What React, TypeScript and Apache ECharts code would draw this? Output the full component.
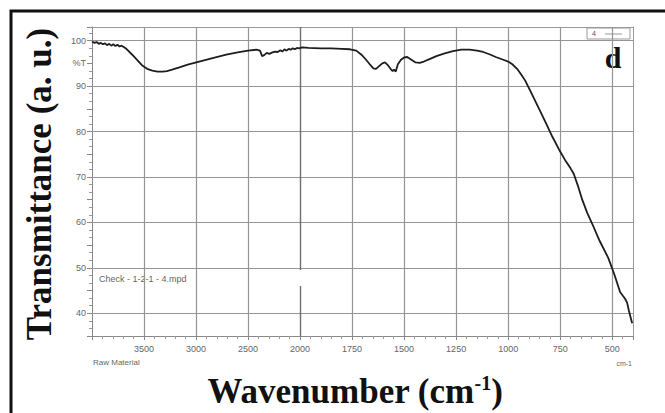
import React, { useEffect, useRef } from "react";
import * as echarts from "echarts";

const wavenumbers = [
  4000, 3975, 3955, 3935, 3915, 3895, 3875, 3855, 3835, 3815, 3795, 3775, 3755, 3735, 3715, 3695,
  3670, 3640, 3600, 3560, 3520, 3470, 3420, 3370, 3320, 3280, 3230, 3160, 3080, 2970, 2850, 2710,
  2600, 2500, 2420, 2385, 2365, 2345, 2320, 2295, 2265, 2240, 2215, 2190, 2170, 2150, 2130, 2110,
  2090, 2070, 2050, 2030, 2010, 1990, 1960, 1900, 1850, 1800, 1760, 1730, 1705, 1685, 1665, 1648,
  1635, 1620, 1605, 1592, 1578, 1565, 1555, 1548, 1540, 1530, 1515, 1500, 1485, 1465, 1445, 1425,
  1405, 1375, 1345, 1305, 1265, 1225, 1185, 1150, 1120, 1090, 1060, 1030, 1000, 980, 957, 935,
  918, 890, 856, 820, 788, 755, 726, 700, 685, 665, 644, 620, 596, 560, 519, 490,
  462, 448, 438, 428, 420, 412, 404,
];

const transmittance = [
  99.8, 99.5, 99.7, 99.3, 99.5, 99.2, 99.4, 99.0, 99.3, 98.9, 99.2, 98.8, 99.1, 98.7, 98.9, 98.6,
  98.2, 97.5, 96.6, 95.6, 94.6, 93.8, 93.4, 93.2, 93.2, 93.3, 93.6, 94.1, 94.7, 95.4, 96.1, 96.9,
  97.4, 97.8, 98.0, 97.8, 96.6, 96.8, 97.3, 97.1, 97.4, 97.6, 97.5, 97.9, 97.6, 98.1, 97.8, 98.2,
  98.0, 98.3, 98.1, 98.4, 98.3, 98.5, 98.4, 98.3, 98.3, 98.2, 98.1, 97.8, 96.9, 95.9, 94.8, 93.9,
  93.8, 94.4, 95.0, 95.2, 94.6, 93.8, 93.3, 93.6, 93.2, 94.8, 95.8, 96.3, 96.4, 95.8, 95.2, 95.1,
  95.4, 96.0, 96.6, 97.2, 97.7, 98.0, 98.0, 97.8, 97.5, 97.0, 96.4, 95.9, 95.4, 94.8, 93.8, 92.4,
  91.2, 88.6, 85.4, 82.0, 78.9, 76.0, 73.7, 71.9, 70.7, 68.1, 65.0, 62.1, 59.7, 55.9, 52.2, 48.6,
  44.7, 43.8, 43.2, 42.3, 40.6, 39.2, 37.8,
];

const xTickValues = [3500, 3000, 2500, 2000, 1750, 1500, 1250, 1000, 750, 500];
const yGridValues = [40, 50, 60, 70, 80, 90, 100];

// Piecewise FTIR scale: 4000-2000 compressed, 2000-400 expanded (x2)
const toU = (w: number) => (w >= 2000 ? 4000 - w : 2000 + 2 * (2000 - w));
const fromU = (u: number) => (u <= 2000 ? 4000 - u : 2000 - (u - 2000) / 2);

export default function App() {
  const ref = useRef<HTMLDivElement>(null);

  useEffect(() => {
    if (!ref.current) return;
    const chart = echarts.init(ref.current, null, { renderer: "svg" });
    const data = wavenumbers.map((w, i) => [toU(w), transmittance[i]]);
    const gridColor = "#959595";
    const gridData = [
      ...yGridValues.map((v) => [
        [0, v],
        [5200, v],
      ]),
      ...xTickValues
        .filter((w) => w !== 2000)
        .map((w) => [
          [toU(w), 35],
          [toU(w), 103],
        ]),
    ];
    const breakData = [
      [
        [toU(2000), 35],
        [toU(2000), 46],
      ],
      [
        [toU(2000), 49.5],
        [toU(2000), 103],
      ],
    ];

    const borderAxis = {
      axisLine: { show: true, onZero: false, lineStyle: { color: "#999" } },
      axisTick: { show: false },
      axisLabel: { show: false },
      splitLine: { show: false },
    };

    chart.setOption({
      animation: false,
      backgroundColor: "#ffffff",
      grid: {
        left: 92,
        right: 32,
        top: 27,
        bottom: 77,
      },
      xAxis: [
        {
          type: "value",
          min: 0,
          max: 5200,
          interval: 500,
          axisLine: { show: true, onZero: false, lineStyle: { color: "#888" } },
          axisTick: { show: true, length: 4, lineStyle: { color: "#888" } },
          minorTick: { show: true, splitNumber: 5, length: 3, lineStyle: { color: "#999" } },
          splitLine: { show: false },
          axisLabel: {
            color: "#666",
            fontSize: 9,
            fontFamily: "Liberation Sans",
            margin: 8,
            showMaxLabel: false,
            showMinLabel: false,
            formatter: (v: number) => String(Math.round(fromU(v))),
          },
        },
        { type: "value", position: "top", min: 0, max: 5200, ...borderAxis },
      ],
      yAxis: [
        {
          type: "value",
          min: 35,
          max: 103,
          interval: 5,
          axisLine: { show: true, onZero: false, lineStyle: { color: "#888" } },
          axisTick: { show: true, length: 5, lineStyle: { color: "#888" } },
          minorTick: { show: true, splitNumber: 3, length: 3, lineStyle: { color: "#999" } },
          splitLine: { show: false },
          axisLabel: {
            color: "#666",
            fontSize: 9,
            fontFamily: "Liberation Sans",
            margin: 6,
            showMaxLabel: false,
            formatter: (v: number) => (v % 10 === 0 ? String(v) : v === 95 ? "%T" : ""),
          },
        },
        { type: "value", position: "right", min: 35, max: 103, ...borderAxis },
      ],
      series: [
        {
          type: "lines",
          coordinateSystem: "cartesian2d",
          silent: true,
          z: 1,
          data: gridData.map((c) => ({ coords: c })),
          lineStyle: { color: gridColor, width: 1.2, opacity: 1 },
        },
        {
          type: "lines",
          coordinateSystem: "cartesian2d",
          silent: true,
          z: 2,
          data: breakData.map((c) => ({ coords: c })),
          lineStyle: { color: "#6e6e6e", width: 1.4, opacity: 1 },
        },
        {
          type: "line",
          data,
          showSymbol: false,
          symbol: "none",
          lineStyle: { color: "#1e1e1e", width: 1.8 },
          z: 5,
        },
      ],
      graphic: [
        {
          type: "rect",
          shape: { x: 11, y: 11, width: 700, height: 500 },
          style: { fill: "none", stroke: "#111", lineWidth: 3 },
          silent: true,
        },
        {
          type: "text",
          x: 39,
          y: 184,
          rotation: Math.PI / 2,
          style: {
            text: "Transmittance (a. u.)",
            font: "bold 35px 'Liberation Serif', serif",
            fill: "#111",
            textAlign: "center",
            textVerticalAlign: "middle",
          },
        },
        {
          type: "text",
          x: 355,
          y: 391,
          style: {
            text: "Wavenumber (cm{sup|-1})",
            font: "bold 35px 'Liberation Serif', serif",
            fill: "#111",
            textAlign: "center",
            textVerticalAlign: "middle",
            rich: {
              sup: {
                font: "bold 20px 'Liberation Serif', serif",
                fill: "#111",
                verticalAlign: "top",
                lineHeight: 36,
                padding: [0, 0, 14, 0],
              },
            },
          },
        },
        {
          type: "text",
          x: 613,
          y: 57,
          style: {
            text: "d",
            font: "bold 30px 'Liberation Serif', serif",
            fill: "#111",
            textAlign: "center",
            textVerticalAlign: "middle",
          },
        },
        {
          type: "rect",
          shape: { x: 587, y: 28, width: 43, height: 11 },
          style: { fill: "#fff", stroke: "#999", lineWidth: 1 },
        },
        {
          type: "text",
          x: 594,
          y: 33.5,
          style: { text: "4", font: "7px 'Liberation Sans'", fill: "#555", textAlign: "center", textVerticalAlign: "middle" },
        },
        {
          type: "line",
          shape: { x1: 605, y1: 34, x2: 622, y2: 34 },
          style: { stroke: "#999", lineWidth: 1 },
        },
        {
          type: "text",
          x: 99,
          y: 279,
          style: { text: "Check - 1-2-1 - 4.mpd", font: "9px 'Liberation Sans'", fill: "#666", textVerticalAlign: "middle" },
        },
        {
          type: "text",
          x: 93,
          y: 362,
          style: { text: "Raw Material", font: "8px 'Liberation Sans'", fill: "#666", textVerticalAlign: "middle" },
        },
        {
          type: "text",
          x: 632,
          y: 363,
          style: { text: "cm-1", font: "7px 'Liberation Sans'", fill: "#666", textAlign: "right", textVerticalAlign: "middle" },
        },
      ],
    });
    return () => chart.dispose();
  }, []);

  return <div ref={ref} style={{ width: 665, height: 413, position: "absolute", left: 0, top: 0 }} />;
}
